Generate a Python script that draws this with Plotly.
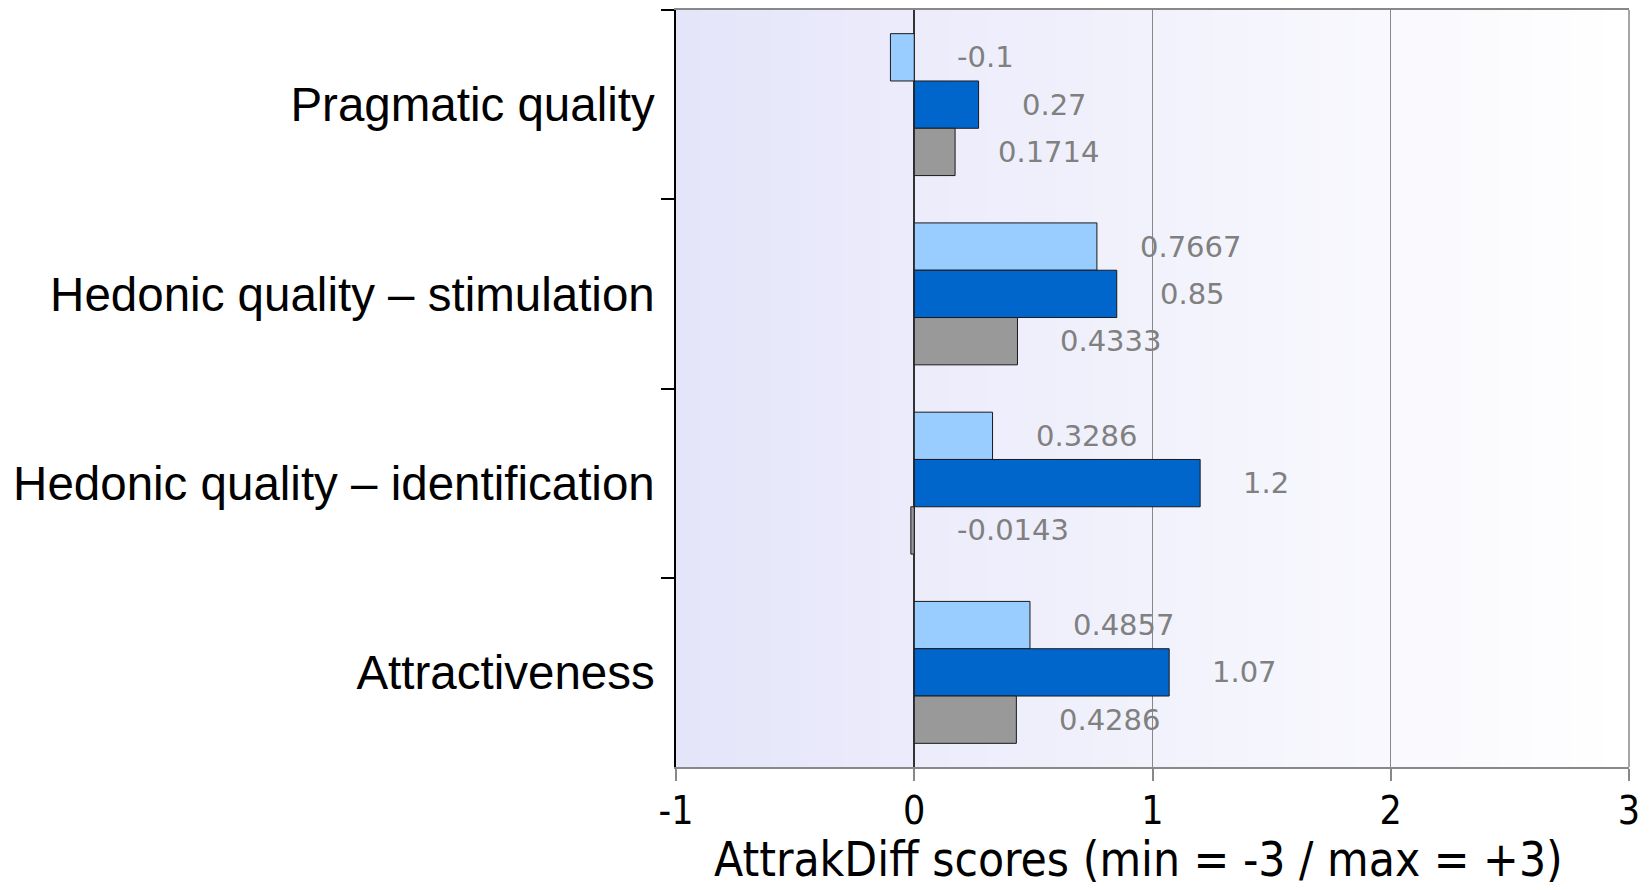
import plotly.graph_objects as go

categories = ["Pragmatic quality", "Hedonic quality – stimulation",
              "Hedonic quality – identification", "Attractiveness"]
series_a = [-0.1, 0.7667, 0.3286, 0.4857]
series_b = [0.27, 0.85, 1.2, 1.07]
series_c = [0.1714, 0.4333, -0.0143, 0.4286]
series_colors = ["#99CCFF", "#0066CC", "#999999"]
label_texts = [["-0.1", "0.7667", "0.3286", "0.4857"],
               ["0.27", "0.85", "1.2", "1.07"],
               ["0.1714", "0.4333", "-0.0143", "0.4286"]]
x_ticks = [-1, 0, 1, 2, 3]
x_title = "AttrakDiff scores (min = -3 / max = +3)"

all_series = [series_a, series_b, series_c]

fig = go.Figure()
for vals, col in zip(all_series, series_colors):
    fig.add_trace(go.Bar(
        y=categories, x=vals, orientation="h", marker_color=col,
        marker_line_color="#1a1a1a", marker_line_width=1, showlegend=False,
    ))

# value labels
bar_w = 0.75 / 3
annotations = []
for k, (vals, texts) in enumerate(zip(all_series, label_texts)):
    for i, (v, t) in enumerate(zip(vals, texts)):
        annotations.append(dict(
            x=max(v, 0), y=i + (k - 1) * bar_w, xref="x", yref="y",
            text=t, showarrow=False, xanchor="left", yanchor="middle",
            xshift=41, font=dict(family="DejaVu Sans", size=29, color="#808080"),
        ))

# x-axis title (slightly left of centre, as in the original)
annotations.append(dict(
    x=0.485, y=0, xref="paper", yref="paper", xanchor="center", yanchor="middle",
    yshift=-92, showarrow=False, text=x_title,
    font=dict(family="DejaVu Sans Condensed, DejaVu Sans", size=47.5, color="black"),
))

# gradient background
shapes = []
N = 80
c0 = (229, 229, 250)
c1 = (255, 255, 255)
for i in range(N):
    f = i / (N - 1)
    col = "rgb(%d,%d,%d)" % tuple(round(a + (b - a) * f) for a, b in zip(c0, c1))
    shapes.append(dict(type="rect", xref="x domain", yref="y domain",
                       x0=i / N, x1=(i + 1) / N + 0.002, y0=0, y1=1,
                       fillcolor=col, line_width=0, layer="below"))
shapes.append(dict(type="line", xref="x domain", yref="y domain",
                   x0=1, x1=1, y0=0, y1=1, line=dict(color="#888888", width=1.5)))

fig.update_layout(
    width=1641, height=882,
    margin=dict(l=668, r=20, t=0, b=123),
    paper_bgcolor="white", plot_bgcolor="white",
    barmode="group", bargap=0.25, bargroupgap=0,
    annotations=annotations, shapes=shapes,
    xaxis=dict(
        range=[-1, 3], tickvals=x_ticks, ticktext=[str(t) for t in x_ticks],
        showgrid=True, gridcolor="#888888", gridwidth=1,
        zeroline=True, zerolinecolor="#333333", zerolinewidth=1.5,
        showline=True, linecolor="#888888", linewidth=1.5, mirror=True,
        ticks="outside", ticklen=12, tickcolor="#888888", tickwidth=1.5,
        ticklabelstandoff=-4,
        tickfont=dict(family="DejaVu Sans Condensed, DejaVu Sans", size=39, color="black"),
    ),
    yaxis=dict(
        autorange="reversed", showgrid=False,
        showline=True, linecolor="black", linewidth=1.5,
        ticks="outside", ticklen=13, tickcolor="black", tickwidth=1.5,
        tickson="boundaries", ticklabelstandoff=10,
        tickfont=dict(family="Liberation Sans, Arial", size=47.5, color="black"),
    ),
)

fig.write_html("out.html")
